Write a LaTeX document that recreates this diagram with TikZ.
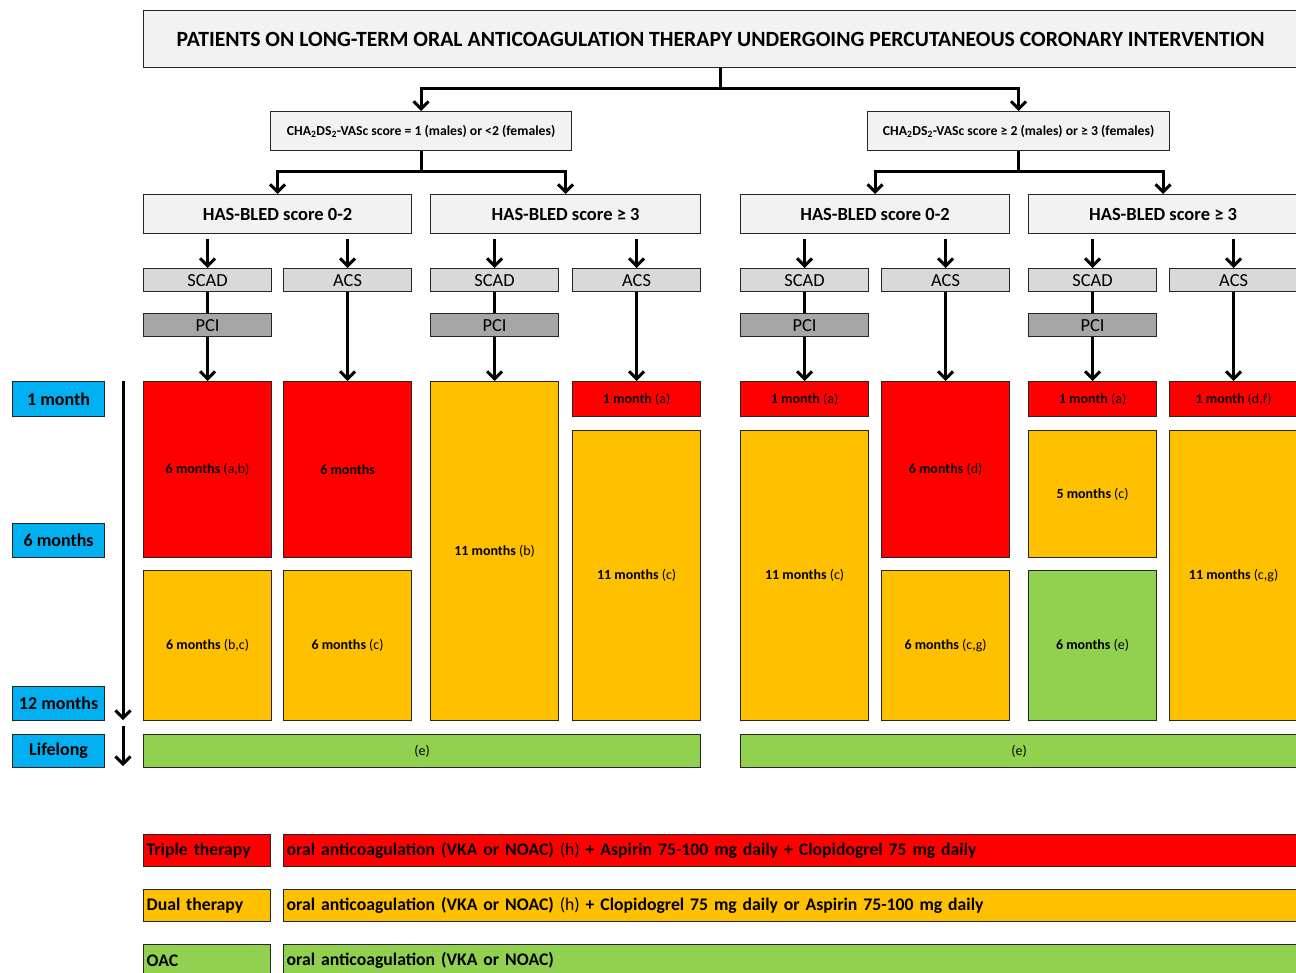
\documentclass[tikz,border=0pt]{standalone}
\usepackage{fontspec}
\setmainfont{Carlito}
\usetikzlibrary{arrows.meta}
\definecolor{tred}{RGB}{255,0,0}
\definecolor{tamber}{RGB}{255,192,0}
\definecolor{tgreen}{RGB}{146,208,80}
\definecolor{tcyan}{RGB}{0,176,240}
\definecolor{hdgray}{RGB}{242,242,242}
\definecolor{ltgray}{RGB}{217,217,217}
\definecolor{dkgray}{RGB}{166,166,166}
\tikzset{box/.style = {draw=black!85, line width=1.2pt, inner sep=0, anchor=north west, align=center}}
\tikzset{sz/.style 2 args = {minimum width=#1, minimum height=#2}}
\tikzset{conn/.style = {line width=3pt}}
\tikzset{arr/.style = {line width=3pt, -{Straight Barb[length=7.5pt,width=15pt]}}}
\tikzset{period/.style = {box, font=\fontsize{14pt}{16pt}\selectfont}}
\tikzset{stage/.style = {box, sz={128}{23}, font=\fontsize{18.4pt}{20pt}\selectfont}}
\tikzset{hasbled/.style = {box, fill=hdgray, font=\fontsize{18.5pt}{20pt}\selectfont\bfseries}}
\tikzset{timebox/.style = {box, fill=tcyan, sz={92}{34}, font=\fontsize{18pt}{20pt}\selectfont\bfseries}}
\tikzset{legend/.style = {box, align=left, inner xsep=3pt, minimum height=32, text width=#1, font=\fontsize{17.7pt}{19pt}\selectfont\bfseries}}

\begin{document}
\begin{tikzpicture}[x=1pt, y=-1pt]
    \useasboundingbox (0, 0) rectangle (1296, 973);

    % header and risk groups
    \node (title) [box, fill=hdgray, sz={1154}{57}, font=\fontsize{21.7pt}{24pt}\selectfont\bfseries] at (143, 10)
      {PATIENTS ON LONG-TERM ORAL ANTICOAGULATION THERAPY UNDERGOING PERCUTANEOUS CORONARY INTERVENTION};
    \node (cha1) [box, fill=hdgray, sz={301}{39}, font=\fontsize{13.7pt}{15pt}\selectfont\bfseries] at (270, 111)
      {CHA\textsubscript{2}DS\textsubscript{2}-VASc score = 1 (males) or <2 (females)};
    \node (cha2) [box, fill=hdgray, sz={302}{39}, font=\fontsize{13.7pt}{15pt}\selectfont\bfseries] at (867, 111)
      {CHA\textsubscript{2}DS\textsubscript{2}-VASc score ≥ 2 (males) or ≥ 3 (females)};

    \node (hb1) [hasbled, sz={268}{39}] at (143, 194) {HAS-BLED score 0-2};
    \node (hb2) [hasbled, sz={270}{39}] at (430, 194) {HAS-BLED score ≥ 3};
    \node (hb3) [hasbled, sz={269}{39}] at (740, 194) {HAS-BLED score 0-2};
    \node (hb4) [hasbled, sz={269}{39}] at (1028, 194) {HAS-BLED score ≥ 3};

    % clinical setting
    \node (scad1) [stage, fill=ltgray] at (143, 268) {SCAD};
    \node (acs2) [stage, fill=ltgray] at (283, 268) {ACS};
    \node (scad3) [stage, fill=ltgray] at (430, 268) {SCAD};
    \node (acs4) [stage, fill=ltgray] at (572, 268) {ACS};
    \node (scad5) [stage, fill=ltgray] at (740, 268) {SCAD};
    \node (acs6) [stage, fill=ltgray] at (881, 268) {ACS};
    \node (scad7) [stage, fill=ltgray] at (1028, 268) {SCAD};
    \node (acs8) [stage, fill=ltgray] at (1169, 268) {ACS};

    \node (pci1) [stage, fill=dkgray] at (143, 313) {PCI};
    \node (pci3) [stage, fill=dkgray] at (430, 313) {PCI};
    \node (pci5) [stage, fill=dkgray] at (740, 313) {PCI};
    \node (pci7) [stage, fill=dkgray] at (1028, 313) {PCI};

    % time line
    \node (t1) [timebox, minimum height=35] at (12, 381) {1 month};
    \node (t6) [timebox] at (12, 523) {6 months};
    \node (t12) [timebox] at (12, 686) {12 months};
    \node (tlife) [timebox, minimum height=33] at (12, 734) {Lifelong};
    \coordinate (ta) at (123, 381);
    \coordinate (tb) at (123, 720);
    \coordinate (tc) at (123, 726);
    \coordinate (td) at (123, 766);

    % treatment periods
    \node (p1a) [period, fill=tred, sz={128}{176}] at (143, 381) {\textbf{6 months} (a,b)};
    \node (p1b) [period, fill=tamber, sz={128}{150}] at (143, 570) {\textbf{6 months} (b,c)};
    \node (p2a) [period, fill=tred, sz={128}{176}] at (283, 381) {\textbf{6 months}};
    \node (p2b) [period, fill=tamber, sz={128}{150}] at (283, 570) {\textbf{6 months} (c)};
    \node (p3a) [period, fill=tamber, sz={128}{339}] at (430, 381) {\textbf{11 months} (b)};
    \node (p4a) [period, fill=tred, sz={128}{35}] at (572, 381) {\textbf{1 month} (a)};
    \node (p4b) [period, fill=tamber, sz={128}{290}] at (572, 430) {\textbf{11 months} (c)};
    \node (p5a) [period, fill=tred, sz={128}{35}] at (740, 381) {\textbf{1 month} (a)};
    \node (p5b) [period, fill=tamber, sz={128}{290}] at (740, 430) {\textbf{11 months} (c)};
    \node (p6a) [period, fill=tred, sz={128}{176}] at (881, 381) {\textbf{6 months} (d)};
    \node (p6b) [period, fill=tamber, sz={128}{150}] at (881, 570) {\textbf{6 months} (c,g)};
    \node (p7a) [period, fill=tred, sz={128}{35}] at (1028, 381) {\textbf{1 month} (a)};
    \node (p7b) [period, fill=tamber, sz={128}{127}] at (1028, 430) {\textbf{5 months} (c)};
    \node (p7c) [period, fill=tgreen, sz={128}{150}] at (1028, 570) {\textbf{6 months} (e)};
    \node (p8a) [period, fill=tred, sz={128}{35}] at (1169, 381) {\textbf{1 month} (d,f)};
    \node (p8b) [period, fill=tamber, sz={128}{290}] at (1169, 430) {\textbf{11 months} (c,g)};

    \node (life1) [period, fill=tgreen, sz={557}{33}] at (143, 734) {(e)};
    \node (life2) [period, fill=tgreen, sz={557}{33}] at (740, 734) {(e)};

    % legend
    \node (lab1) [legend=121, fill=tred] at (143, 834) {Triple therapy};
    \node (txt1) [legend=1008, fill=tred] at (283, 834)
      {oral anticoagulation (VKA or NOAC) \textmd{(h)} + Aspirin 75-100 mg daily + Clopidogrel 75 mg daily};
    \node (lab2) [legend=121, fill=tamber] at (143, 889) {Dual therapy};
    \node (txt2) [legend=1008, fill=tamber] at (283, 889)
      {oral anticoagulation (VKA or NOAC) \textmd{(h)} + Clopidogrel 75 mg daily or Aspirin 75-100 mg daily};
    \node (lab3) [legend=121, fill=tgreen] at (143, 944) {OAC};
    \node (txt3) [legend=1008, fill=tgreen] at (283, 944) {oral anticoagulation (VKA or NOAC)};

    % connectors
    \draw [conn] (title.south) -- ++(0, 20) coordinate (tj);
    \draw [arr] (tj) -| (cha1.north);
    \draw [arr] (tj) -| (cha2.north);
    \draw [conn] (cha1.south) -- ++(0, 20) coordinate (c1j);
    \draw [arr] (c1j) -| (hb1.north);
    \draw [arr] (c1j) -| (hb2.north);
    \draw [conn] (cha2.south) -- ++(0, 20) coordinate (c2j);
    \draw [arr] (c2j) -| (hb3.north);
    \draw [arr] (c2j) -| (hb4.north);

    \draw [arr, shorten <=5pt] (hb1.south -| scad1.north) -- (scad1.north);
    \draw [arr, shorten <=5pt] (hb1.south -| acs2.north) -- (acs2.north);
    \draw [arr, shorten <=5pt] (hb2.south -| scad3.north) -- (scad3.north);
    \draw [arr, shorten <=5pt] (hb2.south -| acs4.north) -- (acs4.north);
    \draw [arr, shorten <=5pt] (hb3.south -| scad5.north) -- (scad5.north);
    \draw [arr, shorten <=5pt] (hb3.south -| acs6.north) -- (acs6.north);
    \draw [arr, shorten <=5pt] (hb4.south -| scad7.north) -- (scad7.north);
    \draw [arr, shorten <=5pt] (hb4.south -| acs8.north) -- (acs8.north);

    \draw [conn] (scad1.south) -- (pci1.north);
    \draw [conn] (scad3.south) -- (pci3.north);
    \draw [conn] (scad5.south) -- (pci5.north);
    \draw [conn] (scad7.south) -- (pci7.north);
    \draw [arr] (pci1.south) -- (p1a.north);
    \draw [arr] (acs2.south) -- (p2a.north);
    \draw [arr] (pci3.south) -- (p3a.north);
    \draw [arr] (acs4.south) -- (p4a.north);
    \draw [arr] (pci5.south) -- (p5a.north);
    \draw [arr] (acs6.south) -- (p6a.north);
    \draw [arr] (pci7.south) -- (p7a.north);
    \draw [arr] (acs8.south) -- (p8a.north);

    \draw [arr] (ta) -- (tb);
    \draw [arr] (tc) -- (td);
  \end{tikzpicture}
\end{document}
